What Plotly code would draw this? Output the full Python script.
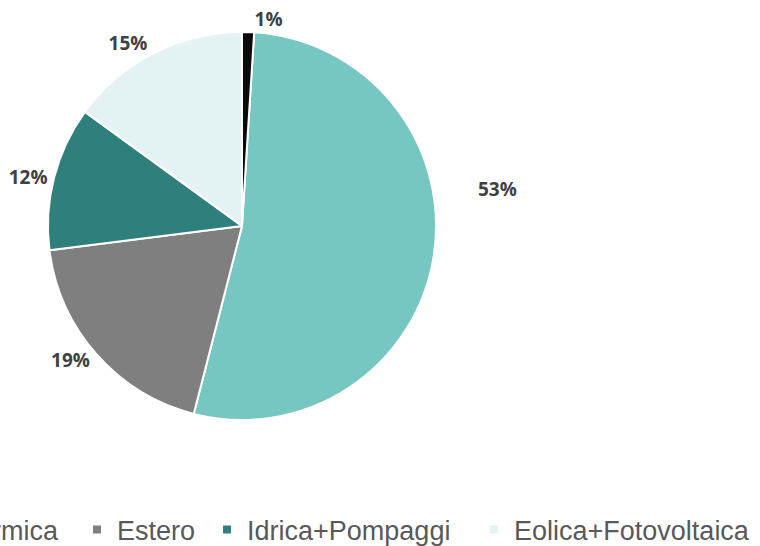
import plotly.graph_objects as go

# Data
categories = ["Termica", "Estero", "Idrica+Pompaggi", "Eolica+Fotovoltaica", "Altro"]
shares = [53, 19, 12, 15, 1]
legend_categories = ["Termica", "Estero", "Idrica+Pompaggi", "Eolica+Fotovoltaica"]

# Styles
colors = ["#76C6C1", "#7F7F7F", "#2F807C", "#E3F3F3", "#0A0A0A"]
legend_ids = ["legend", "legend2", "legend3", "legend4"]
legend_x = [-0.1007, 0.1013, 0.2724, 0.6237]
label_font = dict(family="Open Sans", size=19, color="#404040", weight="bold")

# the largest slice's label sits higher, away from the slice (as in the source)
texttemplates = [""] + ["%{percent:.0%}"] * (len(categories) - 1)

fig = go.Figure()

fig.add_trace(go.Pie(
    labels=categories,
    values=shares,
    sort=False,
    direction="clockwise",
    rotation=3.6,
    marker=dict(colors=colors, line=dict(color="white", width=2)),
    texttemplate=texttemplates,
    textposition="outside",
    textfont=label_font,
    showlegend=False,
    domain=dict(x=[0.0605, 0.5763], y=[0.170, 0.937]),
    hoverinfo="label+percent",
))

fig.add_annotation(
    x=0.655, y=0.627, xref="paper", yref="paper",
    text=f"{round(100 * shares[0] / sum(shares))}%",
    showarrow=False, font=label_font,
)

for name, lid in zip(legend_categories, legend_ids):
    fig.add_trace(go.Scatter(
        x=[None], y=[None], mode="markers", name=name, legend=lid,
        marker=dict(symbol="square", size=8, color=colors[categories.index(name)]),
        showlegend=True,
    ))

legend_style = dict(
    orientation="h", xanchor="left", y=-0.0475, yanchor="middle",
    font=dict(family="Liberation Sans", size=27, color="#595959"),
    bgcolor="rgba(0,0,0,0)",
)

fig.update_layout(
    width=760, height=546,
    margin=dict(l=0, r=0, t=0, b=40, autoexpand=False),
    paper_bgcolor="white", plot_bgcolor="white",
    xaxis=dict(visible=False), yaxis=dict(visible=False),
    **{lid: dict(x=lx, **legend_style) for lid, lx in zip(legend_ids, legend_x)},
)

fig.write_html(
    "out.html",
    config={"displayModeBar": False},
    post_script="document.body.style.margin='0px';",
)
